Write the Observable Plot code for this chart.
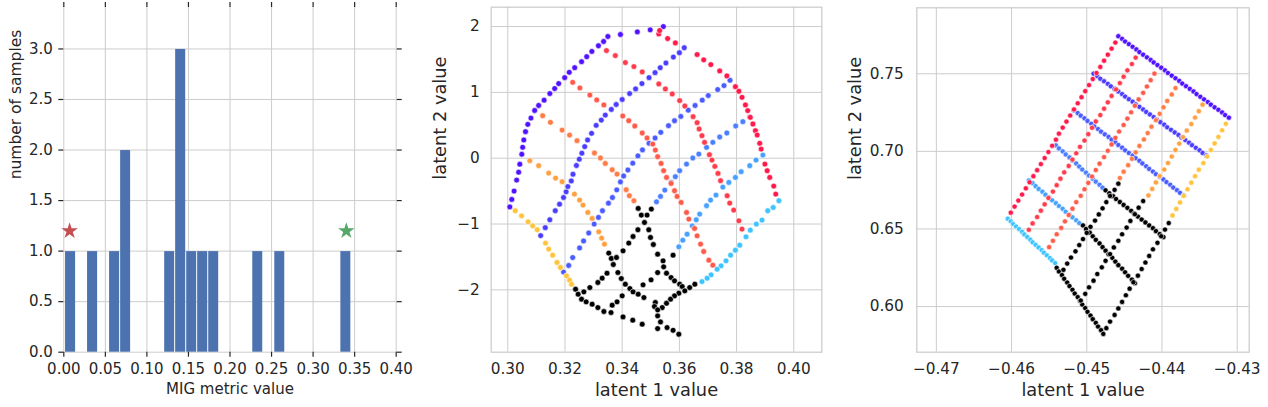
<!DOCTYPE html>
<html><head><meta charset="utf-8">
<script src="https://cdn.jsdelivr.net/npm/d3@7"></script>
<script src="https://cdn.jsdelivr.net/npm/@observablehq/plot@0.6"></script>
<style>
body{margin:0;background:#fff;}
#wrap{position:relative;width:1268px;height:407px;overflow:hidden;background:#fff;}
#wrap svg{position:absolute;top:0;}
</style></head><body><div id="wrap"></div>
<script>
// ---------- Panel 1: histogram ----------
const histLo = [0.0015,0.0280,0.0545,0.0678,0.1208,0.1340,0.1473,0.1605,0.1738,0.2268,0.2533,0.3328];
const histHi = [0.0148,0.0413,0.0678,0.0810,0.1340,0.1473,0.1605,0.1738,0.1870,0.2400,0.2665,0.3460];
const histCount = [1,1,1,2,1,3,1,1,1,1,1,1];
const starX = [0.007, 0.340];
const starY = [1.2, 1.2];
const starColor = ["#c44e52", "#55a868"];
const p1xTicks = [0,0.05,0.10,0.15,0.20,0.25,0.30,0.35,0.40];
const p1yTicks = [0,0.5,1.0,1.5,2.0,2.5,3.0];

// ---------- Colours of the two line families ----------
const bColors = ["#5012ff","#4b3dff","#4a5cff","#4a7fff","#47a2ff","#3fc4ff"];
const rColors = ["#ff1a4b","#ff3b4c","#ff5b4a","#ff7c46","#ffa142","#ffc43e"];
const blackColor = "#000000";

// ---------- Panel 2 points ----------
const p2_B1 = [[0.3544,2.000],[0.3498,1.950],[0.3453,1.919],[0.3394,1.879],[0.3350,1.849],[0.3335,1.773],[0.3317,1.708],[0.3294,1.622],[0.3276,1.542],[0.3258,1.466],[0.3234,1.375],[0.3215,1.305],[0.3199,1.224],[0.3178,1.134],[0.3164,1.058],[0.3147,0.982],[0.3127,0.882],[0.3108,0.801],[0.3094,0.725],[0.3081,0.610],[0.3070,0.514],[0.3062,0.403],[0.3056,0.277],[0.3052,0.166],[0.3049,0.060],[0.3042,-0.091],[0.3038,-0.212],[0.3031,-0.332],[0.3022,-0.499],[0.3014,-0.626],[0.3007,-0.740]];
const p2_B2 = [[0.3115,-1.176],[0.3131,-1.055],[0.3147,-0.935],[0.3166,-0.798],[0.3181,-0.698],[0.3195,-0.597],[0.3204,-0.510],[0.3210,-0.431],[0.3222,-0.345],[0.3228,-0.244],[0.3240,-0.111],[0.3250,-0.015],[0.3259,0.076],[0.3269,0.176],[0.3279,0.277],[0.3293,0.378],[0.3309,0.499],[0.3327,0.579],[0.3341,0.655],[0.3362,0.741],[0.3379,0.816],[0.3400,0.892],[0.3426,0.982],[0.3447,1.053],[0.3469,1.134],[0.3494,1.224],[0.3515,1.300],[0.3533,1.375],[0.3553,1.446],[0.3579,1.537],[0.3600,1.602],[0.3617,1.678]];
const p2_B3 = [[0.3195,-1.730],[0.3213,-1.630],[0.3227,-1.509],[0.3251,-1.363],[0.3265,-1.257],[0.3283,-1.136],[0.3302,-1.000],[0.3317,-0.899],[0.3331,-0.798],[0.3352,-0.683],[0.3366,-0.597],[0.3381,-0.481],[0.3394,-0.360],[0.3405,-0.270],[0.3420,-0.179],[0.3437,-0.076],[0.3455,0.035],[0.3471,0.126],[0.3494,0.227],[0.3515,0.307],[0.3535,0.393],[0.3562,0.494],[0.3583,0.569],[0.3605,0.635],[0.3631,0.730],[0.3655,0.801],[0.3680,0.882],[0.3701,0.952],[0.3734,1.043],[0.3756,1.103],[0.3777,1.184]];
const p2_B4 = [[0.3520,-0.662],[0.3534,-0.580],[0.3549,-0.484],[0.3571,-0.368],[0.3586,-0.281],[0.3601,-0.190],[0.3625,-0.089],[0.3647,0.003],[0.3668,0.063],[0.3695,0.165],[0.3717,0.241],[0.3741,0.322],[0.3766,0.383],[0.3797,0.489],[0.3822,0.555],[0.3846,0.626]];
const p2_B5 = [[0.3892,0.048],[0.3868,-0.028],[0.3846,-0.114],[0.3816,-0.205],[0.3796,-0.292],[0.3773,-0.368],[0.3752,-0.439],[0.3728,-0.560],[0.3709,-0.636],[0.3695,-0.722],[0.3671,-0.849],[0.3659,-0.935],[0.3645,-1.027],[0.3627,-1.154],[0.3612,-1.245],[0.3598,-1.346]];
const p2_B6 = [[0.3948,-0.646],[0.3928,-0.748],[0.3909,-0.798],[0.3889,-0.940],[0.3869,-1.001],[0.3848,-1.093],[0.3833,-1.194],[0.3811,-1.321],[0.3796,-1.397],[0.3779,-1.473],[0.3763,-1.559],[0.3746,-1.635],[0.3732,-1.686],[0.3711,-1.772],[0.3697,-1.823],[0.3679,-1.874]];
const p2_R1 = [[0.3528,1.888],[0.3531,1.939],[0.3559,1.818],[0.3586,1.752],[0.3662,1.575],[0.3685,1.494],[0.3710,1.422],[0.3741,1.326],[0.3766,1.250],[0.3796,1.087],[0.3808,1.017],[0.3819,0.925],[0.3831,0.809],[0.3839,0.723],[0.3848,0.621],[0.3857,0.520],[0.3866,0.418],[0.3872,0.352],[0.3881,0.226],[0.3886,0.139],[0.3899,-0.089],[0.3907,-0.190],[0.3916,-0.292],[0.3930,-0.424],[0.3937,-0.545]];
const p2_R2 = [[0.3345,1.635],[0.3376,1.559],[0.3411,1.453],[0.3441,1.392],[0.3470,1.311],[0.3528,1.128],[0.3551,1.052],[0.3575,0.976],[0.3601,0.875],[0.3619,0.793],[0.3648,0.631],[0.3662,0.540],[0.3669,0.444],[0.3679,0.342],[0.3688,0.241],[0.3705,0.053],[0.3714,-0.028],[0.3724,-0.124],[0.3735,-0.231],[0.3744,-0.342],[0.3767,-0.570],[0.3776,-0.682],[0.3790,-0.788],[0.3808,-0.951],[0.3819,-1.077]];
const p2_R3 = [[0.3227,1.153],[0.3252,1.067],[0.3287,0.960],[0.3311,0.885],[0.3336,0.809],[0.3402,0.641],[0.3423,0.570],[0.3444,0.489],[0.3470,0.383],[0.3487,0.307],[0.3507,0.215],[0.3516,0.124],[0.3524,0.023],[0.3536,-0.079],[0.3545,-0.190],[0.3555,-0.292],[0.3571,-0.383],[0.3583,-0.494],[0.3592,-0.580],[0.3606,-0.672],[0.3625,-0.824],[0.3633,-0.925],[0.3653,-1.067],[0.3662,-1.179],[0.3674,-1.305],[0.3685,-1.417],[0.3703,-1.549],[0.3717,-1.625]];
const p2_R4 = [[0.3122,0.646],[0.3149,0.545],[0.3190,0.428],[0.3216,0.352],[0.3242,0.266],[0.3303,0.079],[0.3324,0.003],[0.3341,-0.079],[0.3365,-0.175],[0.3382,-0.241],[0.3414,-0.479],[0.3425,-0.570],[0.3441,-0.646]];
const p2_R5 = [[0.3077,-0.038],[0.3108,-0.114],[0.3143,-0.226],[0.3167,-0.302],[0.3190,-0.357],[0.3233,-0.545],[0.3251,-0.636],[0.3263,-0.712],[0.3280,-0.824],[0.3295,-0.915],[0.3318,-1.118],[0.3328,-1.214],[0.3338,-1.305]];
const p2_R6 = [[0.3026,-0.798],[0.3048,-0.875],[0.3071,-0.966],[0.3087,-1.027],[0.3103,-1.087],[0.3132,-1.290],[0.3143,-1.381],[0.3157,-1.473],[0.3172,-1.584],[0.3184,-1.660],[0.3205,-1.787],[0.3216,-1.853],[0.3223,-1.914]];
const p2_K = [[0.3456,-0.763],[0.3502,-0.773],[0.3467,-0.864],[0.3487,-0.864],[0.3478,-0.976],[0.3455,-1.087],[0.3493,-1.087],[0.3438,-1.189],[0.3499,-1.204],[0.3423,-1.290],[0.3509,-1.311],[0.3524,-1.458],[0.3403,-1.407],[0.3353,-1.442],[0.3362,-1.523],[0.3380,-1.508],[0.3369,-1.615],[0.3347,-1.747],[0.3385,-1.737],[0.3397,-1.828],[0.3330,-1.822],[0.3315,-1.888],[0.3524,-1.737],[0.3501,-1.848],[0.3411,-1.914],[0.3473,-1.924],[0.3287,-1.965],[0.3427,-1.980],[0.3438,-2.030],[0.3237,-1.990],[0.3266,-2.030],[0.3246,-2.066],[0.3456,-2.066],[0.3400,-2.091],[0.3476,-2.117],[0.3258,-2.142],[0.3274,-2.182],[0.3382,-2.182],[0.3295,-2.218],[0.3516,-2.192],[0.3365,-2.233],[0.3315,-2.269],[0.3336,-2.329],[0.3361,-2.345],[0.3403,-2.411],[0.3437,-2.461],[0.3470,-2.522],[0.3524,-2.395],[0.3524,-2.588],[0.3578,-1.473],[0.3543,-1.559],[0.3545,-1.650],[0.3555,-1.747],[0.3571,-1.813],[0.3583,-1.863],[0.3601,-1.914],[0.3610,-1.950],[0.3654,-1.914],[0.3636,-1.965],[0.3619,-2.015],[0.3598,-2.051],[0.3583,-2.091],[0.3569,-2.142],[0.3555,-2.203],[0.3513,-2.253],[0.3540,-2.269],[0.3524,-2.304],[0.3534,-2.487],[0.3557,-2.573],[0.3578,-2.614],[0.3598,-2.674]];
const p2xTicks = [0.30,0.32,0.34,0.36,0.38,0.40];
const p2yTicks = [-2,-1,0,1,2];

// ---------- Panel 3 points ----------
const p3_B1 = [[-0.4458,0.7742],[-0.4453,0.7725],[-0.4449,0.7708],[-0.4444,0.7691],[-0.4439,0.7674],[-0.4434,0.7657],[-0.4430,0.7640],[-0.4425,0.7623],[-0.4420,0.7606],[-0.4415,0.7589],[-0.4411,0.7573],[-0.4406,0.7556],[-0.4401,0.7539],[-0.4396,0.7522],[-0.4392,0.7505],[-0.4387,0.7488],[-0.4382,0.7471],[-0.4377,0.7454],[-0.4373,0.7437],[-0.4368,0.7420],[-0.4363,0.7403],[-0.4358,0.7386],[-0.4354,0.7369],[-0.4349,0.7352],[-0.4344,0.7335],[-0.4339,0.7318],[-0.4335,0.7301],[-0.4330,0.7284],[-0.4325,0.7268],[-0.4320,0.7251],[-0.4316,0.7234],[-0.4311,0.7217]];
const p3_B2 = [[-0.4491,0.7501],[-0.4486,0.7485],[-0.4482,0.7468],[-0.4477,0.7452],[-0.4472,0.7435],[-0.4468,0.7419],[-0.4463,0.7402],[-0.4458,0.7386],[-0.4453,0.7369],[-0.4449,0.7353],[-0.4444,0.7336],[-0.4439,0.7320],[-0.4435,0.7303],[-0.4430,0.7287],[-0.4425,0.7270],[-0.4421,0.7254],[-0.4416,0.7238],[-0.4411,0.7221],[-0.4407,0.7205],[-0.4402,0.7188],[-0.4397,0.7172],[-0.4393,0.7155],[-0.4388,0.7139],[-0.4383,0.7122],[-0.4378,0.7106],[-0.4374,0.7089],[-0.4369,0.7073],[-0.4364,0.7056],[-0.4360,0.7040],[-0.4355,0.7023],[-0.4350,0.7007],[-0.4346,0.6990],[-0.4341,0.6974]];
const p3_B3 = [[-0.4517,0.7264],[-0.4512,0.7247],[-0.4508,0.7230],[-0.4503,0.7213],[-0.4499,0.7196],[-0.4494,0.7178],[-0.4490,0.7161],[-0.4485,0.7144],[-0.4481,0.7127],[-0.4476,0.7110],[-0.4471,0.7093],[-0.4467,0.7076],[-0.4462,0.7059],[-0.4458,0.7041],[-0.4453,0.7024],[-0.4449,0.7007],[-0.4444,0.6990],[-0.4439,0.6973],[-0.4435,0.6956],[-0.4430,0.6939],[-0.4426,0.6922],[-0.4421,0.6904],[-0.4417,0.6887],[-0.4412,0.6870],[-0.4408,0.6853],[-0.4403,0.6836],[-0.4398,0.6819],[-0.4394,0.6802],[-0.4389,0.6785],[-0.4385,0.6767],[-0.4380,0.6750],[-0.4376,0.6733],[-0.4371,0.6716]];
const p3_B4 = [[-0.4541,0.7039],[-0.4537,0.7019],[-0.4532,0.7000],[-0.4528,0.6980],[-0.4523,0.6961],[-0.4519,0.6941],[-0.4514,0.6922],[-0.4510,0.6902],[-0.4506,0.6883],[-0.4501,0.6863],[-0.4497,0.6844],[-0.4492,0.6824],[-0.4488,0.6805],[-0.4483,0.6785],[-0.4479,0.6766]];
const p3_B5 = [[-0.4577,0.6813],[-0.4572,0.6795],[-0.4568,0.6776],[-0.4564,0.6758],[-0.4559,0.6740],[-0.4555,0.6721],[-0.4550,0.6703],[-0.4546,0.6685],[-0.4541,0.6666],[-0.4537,0.6648],[-0.4532,0.6630],[-0.4528,0.6611],[-0.4523,0.6593],[-0.4519,0.6575],[-0.4514,0.6556],[-0.4510,0.6538]];
const p3_B6 = [[-0.4605,0.6566],[-0.4601,0.6549],[-0.4598,0.6532],[-0.4594,0.6516],[-0.4590,0.6499],[-0.4586,0.6482],[-0.4583,0.6465],[-0.4579,0.6448],[-0.4575,0.6431],[-0.4572,0.6414],[-0.4568,0.6398],[-0.4564,0.6381],[-0.4560,0.6364],[-0.4557,0.6347],[-0.4553,0.6330],[-0.4549,0.6313],[-0.4546,0.6297],[-0.4542,0.6280]];
const p3_R1 = [[-0.4601,0.6605],[-0.4596,0.6644],[-0.4591,0.6683],[-0.4586,0.6722],[-0.4581,0.6762],[-0.4576,0.6801],[-0.4571,0.6840],[-0.4566,0.6879],[-0.4561,0.6918],[-0.4556,0.6957],[-0.4551,0.6996],[-0.4546,0.7036],[-0.4541,0.7075],[-0.4537,0.7114],[-0.4532,0.7153],[-0.4527,0.7192],[-0.4522,0.7231],[-0.4517,0.7270],[-0.4512,0.7310],[-0.4507,0.7349],[-0.4502,0.7388],[-0.4497,0.7427],[-0.4492,0.7466],[-0.4487,0.7505],[-0.4482,0.7544],[-0.4477,0.7584],[-0.4472,0.7623],[-0.4467,0.7662],[-0.4462,0.7701]];
const p3_R2 = [[-0.4577,0.6495],[-0.4572,0.6536],[-0.4566,0.6577],[-0.4561,0.6618],[-0.4556,0.6659],[-0.4551,0.6700],[-0.4545,0.6741],[-0.4540,0.6782],[-0.4535,0.6824],[-0.4530,0.6865],[-0.4524,0.6906],[-0.4519,0.6947],[-0.4514,0.6988],[-0.4509,0.7029],[-0.4503,0.7070],[-0.4498,0.7111],[-0.4493,0.7152],[-0.4488,0.7193],[-0.4482,0.7234],[-0.4477,0.7275],[-0.4472,0.7316],[-0.4467,0.7357],[-0.4461,0.7399],[-0.4456,0.7440],[-0.4451,0.7481],[-0.4446,0.7522],[-0.4440,0.7563],[-0.4435,0.7604]];
const p3_R3 = [[-0.4550,0.6383],[-0.4545,0.6424],[-0.4540,0.6466],[-0.4534,0.6507],[-0.4529,0.6549],[-0.4524,0.6590],[-0.4519,0.6631],[-0.4514,0.6673],[-0.4508,0.6714],[-0.4503,0.6756],[-0.4498,0.6797],[-0.4493,0.6838],[-0.4488,0.6880],[-0.4483,0.6921],[-0.4477,0.6963],[-0.4472,0.7004],[-0.4467,0.7045],[-0.4462,0.7087],[-0.4457,0.7128],[-0.4451,0.7170],[-0.4446,0.7211],[-0.4441,0.7252],[-0.4436,0.7294],[-0.4431,0.7335],[-0.4425,0.7377],[-0.4420,0.7418],[-0.4415,0.7459],[-0.4410,0.7501]];
const p3_R4 = [[-0.4456,0.6828],[-0.4451,0.6869],[-0.4445,0.6911],[-0.4440,0.6952],[-0.4435,0.6994],[-0.4430,0.7035],[-0.4424,0.7077],[-0.4419,0.7118],[-0.4414,0.7159],[-0.4408,0.7201],[-0.4403,0.7242],[-0.4398,0.7284],[-0.4393,0.7325],[-0.4387,0.7367],[-0.4382,0.7408]];
const p3_R5 = [[-0.4418,0.6716],[-0.4413,0.6758],[-0.4408,0.6800],[-0.4403,0.6841],[-0.4397,0.6883],[-0.4392,0.6925],[-0.4387,0.6967],[-0.4382,0.7009],[-0.4377,0.7050],[-0.4372,0.7092],[-0.4367,0.7134],[-0.4361,0.7176],[-0.4356,0.7218],[-0.4351,0.7259],[-0.4346,0.7301]];
const p3_R6 = [[-0.4386,0.6587],[-0.4381,0.6629],[-0.4376,0.6671],[-0.4371,0.6714],[-0.4366,0.6756],[-0.4361,0.6798],[-0.4356,0.6840],[-0.4351,0.6882],[-0.4345,0.6925],[-0.4340,0.6967],[-0.4335,0.7009],[-0.4330,0.7051],[-0.4325,0.7093],[-0.4320,0.7136],[-0.4315,0.7178]];
const p3_K_B4 = [[-0.4475,0.6749],[-0.4470,0.6730],[-0.4465,0.6711],[-0.4461,0.6693],[-0.4456,0.6674],[-0.4451,0.6655],[-0.4446,0.6636],[-0.4441,0.6617],[-0.4437,0.6599],[-0.4432,0.6580],[-0.4427,0.6561],[-0.4422,0.6542],[-0.4417,0.6523],[-0.4412,0.6505],[-0.4408,0.6486],[-0.4403,0.6467],[-0.4398,0.6448]];
const p3_K_B5 = [[-0.4505,0.6523],[-0.4501,0.6500],[-0.4496,0.6476],[-0.4492,0.6453],[-0.4488,0.6430],[-0.4483,0.6407],[-0.4479,0.6383],[-0.4475,0.6360],[-0.4471,0.6337],[-0.4466,0.6314],[-0.4462,0.6290],[-0.4458,0.6267],[-0.4453,0.6244],[-0.4449,0.6221],[-0.4445,0.6198],[-0.4440,0.6174],[-0.4436,0.6151]];
const p3_K_B6 = [[-0.4540,0.6250],[-0.4537,0.6226],[-0.4533,0.6203],[-0.4530,0.6179],[-0.4526,0.6155],[-0.4523,0.6132],[-0.4519,0.6108],[-0.4516,0.6084],[-0.4512,0.6061],[-0.4509,0.6037],[-0.4506,0.6013],[-0.4502,0.5990],[-0.4499,0.5966],[-0.4495,0.5942],[-0.4492,0.5919],[-0.4488,0.5895],[-0.4485,0.5871],[-0.4481,0.5848],[-0.4478,0.5824]];
const p3_K_R4 = [[-0.4531,0.6237],[-0.4526,0.6277],[-0.4521,0.6316],[-0.4515,0.6356],[-0.4510,0.6396],[-0.4505,0.6435],[-0.4500,0.6475],[-0.4495,0.6514],[-0.4489,0.6554],[-0.4484,0.6594],[-0.4479,0.6633],[-0.4474,0.6673],[-0.4469,0.6713],[-0.4463,0.6752],[-0.4458,0.6792]];
const p3_K_R5 = [[-0.4508,0.6039],[-0.4502,0.6082],[-0.4497,0.6124],[-0.4491,0.6167],[-0.4486,0.6210],[-0.4480,0.6253],[-0.4475,0.6295],[-0.4469,0.6338],[-0.4464,0.6381],[-0.4458,0.6424],[-0.4453,0.6466],[-0.4447,0.6509],[-0.4442,0.6552],[-0.4436,0.6595],[-0.4431,0.6637],[-0.4425,0.6680]];
const p3_K_R6 = [[-0.4474,0.5861],[-0.4469,0.5903],[-0.4463,0.5946],[-0.4458,0.5988],[-0.4453,0.6030],[-0.4448,0.6073],[-0.4443,0.6115],[-0.4438,0.6157],[-0.4432,0.6199],[-0.4427,0.6242],[-0.4422,0.6284],[-0.4417,0.6326],[-0.4412,0.6369],[-0.4406,0.6411],[-0.4401,0.6453],[-0.4396,0.6496],[-0.4391,0.6538]];
const p3xTicks = [-0.47,-0.46,-0.45,-0.44,-0.43];
const p3yTicks = [0.60,0.65,0.70,0.75];

// ---------- Build tables ----------
const TEXT = "#262626", GRID = "#cccccc";
const FONT = "DejaVu Sans, Liberation Sans, sans-serif";
function toRows(seriesList, colorList) {
  const rows = [];
  seriesList.forEach((pts, i) => pts.forEach(([x, y]) => rows.push({x, y, c: colorList[i]})));
  return rows;
}
const p2Rows = toRows(
  [p2_B1,p2_B2,p2_B3,p2_B4,p2_B5,p2_B6,p2_R1,p2_R2,p2_R3,p2_R4,p2_R5,p2_R6,p2_K],
  [...bColors, ...rColors, blackColor]);
const p3Rows = toRows(
  [p3_B1,p3_B2,p3_B3,p3_B4,p3_B5,p3_B6,p3_R1,p3_R2,p3_R3,p3_R4,p3_R5,p3_R6,
   p3_K_B4,p3_K_B5,p3_K_B6,p3_K_R4,p3_K_R5,p3_K_R6],
  [...bColors, ...rColors, blackColor, blackColor, blackColor, blackColor, blackColor, blackColor]);
const bins = histLo.map((lo, i) => ({lo, hi: histHi[i], count: histCount[i]}));
const stars = starX.map((x, i) => ({x, y: starY[i], c: starColor[i]}));
const baseStyle = {fontFamily: FONT, fontSize: "15px", color: TEXT, background: "transparent", overflow: "visible"};

const p1 = Plot.plot({
  width: 420, height: 407,
  marginLeft: 63.3, marginRight: 24.3, marginTop: 6, marginBottom: 55.3,
  x: {domain: [0, 0.40]}, y: {domain: [0, 3.42]},
  style: baseStyle,
  marks: [
    Plot.gridX(p1xTicks, {stroke: GRID, strokeOpacity: 1, strokeWidth: 1}),
    Plot.gridY(p1yTicks, {stroke: GRID, strokeOpacity: 1, strokeWidth: 1}),
    Plot.rectY(bins, {x1: "lo", x2: "hi", y: "count", fill: "#4c72b0", insetLeft: 0.5, insetRight: 0.5, insetTop: 0.5}),
    Plot.dot(stars, {x: "x", y: "y", fill: "c", symbol: "star", r: 5.2}),
    Plot.axisX(p1xTicks, {anchor: "bottom", tickSize: 5, tickPadding: 6.5, strokeWidth: 1.2, tickFormat: d3.format(".2f"), label: null, fontSize: 15}),
    Plot.axisX(p1xTicks, {anchor: "top", tickSize: 5, strokeWidth: 1.2, tickFormat: () => "", label: null}),
    Plot.axisY(p1yTicks, {anchor: "left", tickSize: 5, tickPadding: 6, strokeWidth: 1.2, tickFormat: d3.format(".1f"), label: null, fontSize: 15}),
    Plot.axisY(p1yTicks, {anchor: "right", tickSize: 5, strokeWidth: 1.2, tickFormat: () => "", label: null}),
    Plot.text(["MIG metric value"], {text: d => d, frameAnchor: "bottom", dy: 36.5, lineAnchor: "middle", fontSize: 15, fill: TEXT}),
    Plot.text(["number of samples"], {text: d => d, frameAnchor: "left", dx: -48, rotate: -90, lineAnchor: "middle", fontSize: 15.5, fill: TEXT})
  ]
});
p1.style.left = "0px";

function scatter({rows, xDomain, yDomain, xTicks, yTicks, xFmt, yFmt, ml, mr, mt, w, yPad, ylabDx, r}) {
  return Plot.plot({
    width: w, height: 407,
    marginLeft: ml, marginRight: mr, marginTop: mt, marginBottom: 55.3,
    x: {domain: xDomain}, y: {domain: yDomain},
    style: baseStyle,
    marks: [
      Plot.gridX(xTicks, {stroke: GRID, strokeOpacity: 1, strokeWidth: 1}),
      Plot.gridY(yTicks, {stroke: GRID, strokeOpacity: 1, strokeWidth: 1}),
      Plot.frame({stroke: GRID, strokeWidth: 1.25}),
      Plot.dot(rows, {x: "x", y: "y", fill: "c", r, stroke: "white", strokeWidth: 0.6}),
      Plot.axisX(xTicks, {anchor: "bottom", tickSize: 0, tickPadding: 11.3, tickFormat: xFmt, label: null, fontSize: 15.3}),
      Plot.axisY(yTicks, {anchor: "left", tickSize: 0, tickPadding: yPad, tickFormat: yFmt, label: null, fontSize: 15.3}),
      Plot.text(["latent 1 value"], {text: d => d, frameAnchor: "bottom", dy: 38, lineAnchor: "middle", fontSize: 17.8, fill: TEXT}),
      Plot.text(["latent 2 value"], {text: d => d, frameAnchor: "left", dx: ylabDx, rotate: -90, lineAnchor: "middle", fontSize: 17.8, fill: TEXT})
    ]
  });
}
const p2 = scatter({rows: p2Rows, xDomain: [0.2942, 0.4098], yDomain: [-2.947, 2.294],
  xTicks: p2xTicks, yTicks: p2yTicks, xFmt: d3.format(".2f"), yFmt: d3.format("d"),
  ml: 70.7, mr: 18.7, mt: 6.7, w: 420, yPad: 11.4, ylabDx: -50.5, r: 2.9});
p2.style.left = "420px";
const p3 = scatter({rows: p3Rows, xDomain: [-0.4726, -0.4284], yDomain: [0.5706, 0.7925],
  xTicks: p3xTicks, yTicks: p3yTicks, xFmt: d3.format(".2f"), yFmt: d3.format(".2f"),
  ml: 76.3, mr: 19.3, mt: 7.3, w: 428, yPad: 13, ylabDx: -62, r: 2.6});
p3.style.left = "840px";

const wrap = document.getElementById("wrap");
wrap.append(p1, p2, p3);
</script></body></html>
